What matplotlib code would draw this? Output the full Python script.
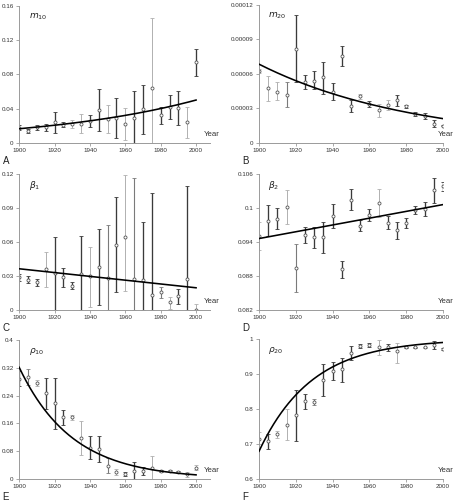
import numpy as np
import matplotlib
matplotlib.use('Agg')
import matplotlib.pyplot as plt
from matplotlib.ticker import FixedLocator, FixedFormatter

plt.rcParams['font.family'] = ['Liberation Sans', 'DejaVu Sans']

anos = list(range(1900, 2001, 5))

# A - m10
m10 = [0.017, 0.0136, 0.018, 0.018, 0.024, 0.021, 0.022, 0.0225, 0.025, 0.039, 0.028,
       0.0295, 0.022, 0.0295, 0.040, 0.064, 0.032, 0.042, 0.041, 0.024, 0.094]
m10_lo = [0.0145, 0.0115, 0.0155, 0.014, 0.0117, 0.019, 0.0175, 0.0115, 0.018, 0.0136, 0.0116,
          0.006, 0.003, 0.0, 0.0105, 0.0, 0.022, 0.028, 0.021, 0.006, 0.0777]
m10_hi = [0.0205, 0.0165, 0.0205, 0.022, 0.0365, 0.024, 0.0265, 0.0335, 0.032, 0.063, 0.044,
          0.052, 0.041, 0.061, 0.0676, 0.146, 0.042, 0.056, 0.0606, 0.042, 0.1095]

# B - m20 (valores em 1e-5)
m20 = [6.28, 4.74, 4.45, 4.19, 8.21, 5.32, 5.41, 5.70, 4.45, 7.60, 3.18,
       4.05, 3.41, 2.83, 3.30, 3.70, 3.18, 2.52, 2.31, 1.68, 1.50]
m20_lo = [6.1, 3.64, 3.70, 3.12, 5.26, 4.68, 4.68, 4.28, 3.70, 6.65, 2.69,
          3.85, 3.16, 2.28, 2.90, 3.25, 3.03, 2.37, 2.06, 1.38, 1.45]
m20_hi = [6.45, 5.81, 5.26, 5.32, 11.16, 5.90, 6.25, 7.08, 5.20, 8.40, 3.70,
          4.25, 3.66, 3.38, 3.70, 4.15, 3.33, 2.67, 2.56, 1.98, 1.55]

# C - beta1
b1 = [0.0286, 0.0265, 0.0245, 0.036, 0.0324, 0.0286, 0.0215, 0.0318, 0.0295, 0.038, 0.028,
      0.0575, 0.0643, 0.027, 0.0265, 0.0133, 0.0156, 0.0065, 0.0124, 0.0274, 0.0]
b1_lo = [0.0256, 0.0235, 0.0215, 0.020, 0.0, 0.0198, 0.0185, 0.0, 0.0024, 0.0044, 0.0,
         0.016, 0.0168, 0.0, 0.0, 0.0, 0.0109, 0.0009, 0.005, 0.0, 0.0]
b1_hi = [0.0316, 0.0295, 0.0275, 0.051, 0.064, 0.037, 0.0245, 0.065, 0.0557, 0.0716, 0.0749,
         0.0996, 0.1188, 0.1164, 0.0775, 0.103, 0.0206, 0.0112, 0.0186, 0.109, 0.005]

# D - beta2
b2 = [0.0951, 0.0977, 0.0981, 0.1002, 0.0894, 0.0952, 0.0949, 0.0949, 0.0986, 0.0892, 0.1015,
      0.0969, 0.0988, 0.1009, 0.0974, 0.0961, 0.0973, 0.0996, 0.0998, 0.1032, 0.1038]
b2_lo = [0.0926, 0.0950, 0.0963, 0.0972, 0.0851, 0.0938, 0.0930, 0.0920, 0.0964, 0.0876, 0.0996,
         0.0959, 0.0977, 0.0984, 0.0963, 0.0946, 0.0964, 0.0989, 0.0985, 0.1009, 0.1030]
b2_hi = [0.0976, 0.1005, 0.1000, 0.1032, 0.0936, 0.0966, 0.0967, 0.0976, 0.1007, 0.0906, 0.1033,
         0.0978, 0.0999, 0.1033, 0.0985, 0.0975, 0.0982, 0.1003, 0.1011, 0.1053, 0.1046]

# E - rho10
r10 = [0.287, 0.294, 0.276, 0.247, 0.218, 0.178, 0.178, 0.118, 0.090, 0.086, 0.038,
       0.019, 0.0144, 0.023, 0.023, 0.030, 0.023, 0.023, 0.019, 0.0134, 0.0316]
r10_lo = [0.268, 0.271, 0.268, 0.201, 0.1435, 0.156, 0.171, 0.070, 0.0574, 0.048, 0.017,
          0.011, 0.0084, 0.0, 0.011, 0.0, 0.020, 0.020, 0.016, 0.0064, 0.0246]
r10_hi = [0.310, 0.316, 0.284, 0.290, 0.290, 0.199, 0.185, 0.166, 0.1225, 0.1225, 0.060,
          0.027, 0.0204, 0.048, 0.035, 0.067, 0.026, 0.026, 0.022, 0.0204, 0.0386]

# F - rho20
r20 = [0.715, 0.707, 0.728, 0.754, 0.783, 0.822, 0.820, 0.882, 0.909, 0.914, 0.961,
       0.981, 0.983, 0.976, 0.976, 0.967, 0.976, 0.976, 0.976, 0.983, 0.971]
r20_lo = [0.700, 0.686, 0.718, 0.712, 0.707, 0.801, 0.812, 0.837, 0.883, 0.876, 0.940,
          0.975, 0.978, 0.954, 0.965, 0.930, 0.974, 0.974, 0.974, 0.971, 0.969]
r20_hi = [0.735, 0.729, 0.738, 0.800, 0.855, 0.842, 0.828, 0.928, 0.935, 0.947, 0.980,
          0.987, 0.988, 0.998, 0.987, 0.990, 0.978, 0.978, 0.978, 0.995, 0.973]

# parametros das curvas ajustadas
fit_m10 = (0.0165, 0.0111)        # a*exp(k*t)
fit_m20 = (6.85e-5, -0.01178)
fit_b1 = (0.0363, 0.0195)         # reta: valor em 1900, valor em 2000
fit_b2 = (0.0946, 0.1006)
fit_r10 = (0.3215, -0.0333)
fit_r20 = (0.321, 0.0348)         # 1 - a*exp(-k*t)

# rotulos dos eixos y
yt_a = ['0', '0.04', '0.08', '0.12', '0.16']
yt_b = ['0', '0.00003', '0.00006', '0.00009', '0.00012']
yt_c = ['0', '0.03', '0.06', '0.09', '0.12']
yt_d = ['0.082', '0.088', '0.094', '0.1', '0.106']
yt_e = ['0', '0.08', '0.16', '0.24', '0.32', '0.4']
yt_f = ['0.6', '0.7', '0.8', '0.9', '1']

# tom de cinza de cada barra de erro: d escuro, m medio, l claro
tons = ['ddddddllddldlddldddld',
        'lllmdddddddldllddddddd'[:21],
        'dddlddddldmdlmddmlddl'[:21],
        'lddlmddddddddlddddddd',
        'dmldddllddmldddldddll'[:21],
        'ldllddmddddddldlddmdd'[:21]]
cor_tom = {'d': '#3a3a3a', 'm': '#7a7a7a', 'l': '#b0b0b0'}
lw_tom = {'d': 0.95, 'm': 0.8, 'l': 0.7}

t = np.linspace(0, 100, 200)
curvas = [fit_m10[0] * np.exp(fit_m10[1] * t),
          fit_m20[0] * np.exp(fit_m20[1] * t),
          fit_b1[0] + (fit_b1[1] - fit_b1[0]) * t / 100,
          fit_b2[0] + (fit_b2[1] - fit_b2[0]) * t / 100,
          fit_r10[0] * np.exp(fit_r10[1] * t),
          1 - fit_r20[0] * np.exp(-fit_r20[1] * t)]

paineis = [
    (m10, m10_lo, m10_hi, yt_a, r'$m_{10}$', 'A'),
    (np.array(m20) * 1e-5, np.array(m20_lo) * 1e-5, np.array(m20_hi) * 1e-5, yt_b, r'$m_{20}$', 'B'),
    (b1, b1_lo, b1_hi, yt_c, r'$\beta_1$', 'C'),
    (b2, b2_lo, b2_hi, yt_d, r'$\beta_2$', 'D'),
    (r10, r10_lo, r10_hi, yt_e, r'$\rho_{10}$', 'E'),
    (r20, r20_lo, r20_hi, yt_f, r'$\rho_{20}$', 'F'),
]

fig = plt.figure(figsize=(4.56, 5.03), dpi=100)
# posicoes dos eixos em fracao da figura
pos = [[0.042, 0.716, 0.419, 0.272], [0.568, 0.716, 0.4035, 0.274],
       [0.042, 0.384, 0.419, 0.270], [0.568, 0.384, 0.4035, 0.270],
       [0.042, 0.048, 0.419, 0.276], [0.568, 0.048, 0.4035, 0.278]]

for i, (v, lo, hi, ytl, nome, letra) in enumerate(paineis):
    ax = fig.add_axes(pos[i])
    v = np.asarray(v); lo = np.asarray(lo); hi = np.asarray(hi)
    for j, ano in enumerate(anos):
        tom = tons[i][j] if j < len(tons[i]) else 'd'
        ax.errorbar(ano, v[j], yerr=[[v[j] - lo[j]], [hi[j] - v[j]]], fmt='o', ms=2.2,
                    mfc='white', mec='#555555', mew=0.6, ecolor=cor_tom[tom],
                    elinewidth=lw_tom[tom], capsize=1.5, capthick=0.6, zorder=2)
    ax.plot(1900 + t, curvas[i], color='black', lw=1.15, zorder=3)

    yvals = [float(s) for s in ytl]
    ax.set_ylim(yvals[0], yvals[-1])
    ax.yaxis.set_major_locator(FixedLocator(yvals))
    ax.yaxis.set_major_formatter(FixedFormatter(ytl))
    ax.set_xticks([1900, 1920, 1940, 1960, 1980, 2000])
    if i % 2 == 0:
        ax.set_xlim(1900, 2008)
    else:
        ax.set_xlim(1900, 2000)

    for s in ['top', 'right']:
        ax.spines[s].set_visible(False)
    for s in ['left', 'bottom']:
        ax.spines[s].set_color('#9a9a9a')
        ax.spines[s].set_linewidth(0.7)
    ax.tick_params(labelsize=4.5, colors='#9a9a9a', labelcolor='#333333',
                   length=2, width=0.6, pad=2)

    ax.text(0.05, 0.96, nome, transform=ax.transAxes, fontsize=6.5, va='top', color='#222222')
    xy = 0.965 if i % 2 == 0 else 0.97
    ax.text(xy, 0.06, 'Year', transform=ax.transAxes, fontsize=5.6, color='#333333',
            ha='left', va='center', clip_on=False)
    fig.text(pos[i][0] - 0.036, pos[i][1] - 0.036, letra, fontsize=7, color='#222222',
             ha='left', va='center')

fig.savefig('out.png', dpi=100)
